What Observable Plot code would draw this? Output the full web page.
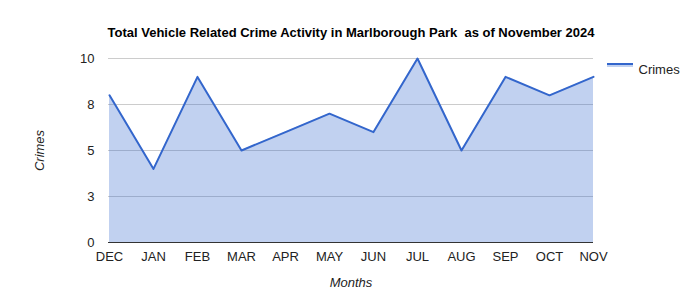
<!DOCTYPE html>
<html>
<head>
<meta charset="utf-8">
<script src="https://cdn.jsdelivr.net/npm/d3@7"></script>
<script src="https://cdn.jsdelivr.net/npm/@observablehq/plot@0.6"></script>
<style>
  html, body { margin: 0; padding: 0; background: #fff; }
  #chart svg { font-family: "Liberation Sans", Arial, sans-serif; }
  g[aria-label="y-axis label"] text, g[aria-label="x-axis label"] text { font-style: italic; }
</style>
</head>
<body>
<div id="chart"></div>
<script>
const months = ["DEC","JAN","FEB","MAR","APR","MAY","JUN","JUL","AUG","SEP","OCT","NOV"];
const crimes = [8, 4, 9, 5, 6, 7, 6, 10, 5, 9, 8, 9];
const yTicks = [0, 2.5, 5, 7.5, 10];
const title = "Total Vehicle Related Crime Activity in Marlborough Park  as of November 2024";
const seriesName = "Crimes";

const data = months.map((m, i) => ({month: m, crimes: crimes[i]}));
const blue = "#3366cc";

const plot = Plot.plot({
  width: 700,
  height: 300,
  marginLeft: 108,
  marginRight: 107,
  marginTop: 58,
  marginBottom: 58,
  style: {fontFamily: '"Liberation Sans", Arial, sans-serif', fontSize: "12px", color: "#222", background: "#fff"},
  x: {type: "point", domain: months, padding: 0},
  y: {domain: [0, 10]},
  marks: [
    Plot.gridY(yTicks.slice(1), {stroke: "#cccccc", strokeOpacity: 1}),
    Plot.areaY(data, {x: "month", y: "crimes", fill: blue, fillOpacity: 0.3}),
    Plot.ruleY([0], {stroke: "#333"}),
    Plot.lineY(data, {x: "month", y: "crimes", stroke: blue, strokeWidth: 2}),
    Plot.axisY({ticks: yTicks, tickFormat: d => Math.round(d), tickSize: 0, tickPadding: 14,
      label: "Crimes", labelAnchor: "center", labelArrow: "none", labelOffset: 74, fontSize: 13}),
    Plot.axisX({tickSize: 0, tickPadding: 9, label: "Months", labelAnchor: "center", labelArrow: "none", labelOffset: 44, fontSize: 13}),
    Plot.text([title], {frameAnchor: "top", dy: -31, fontWeight: "bold", fontSize: 13, fill: "#000"}),
    Plot.text([seriesName], {frameAnchor: "top-right", dx: 45, dy: 6, textAnchor: "start", fontSize: 13, fill: "#222"})
  ]
});

// legend swatch
const xr = plot.scale("x").range;
const yr = plot.scale("y").range;
const svg = d3.select(plot);
const lx = xr[1] + 14, ly = yr[1] + 6;
svg.append("rect").attr("x", lx).attr("y", ly).attr("width", 26).attr("height", 3).attr("fill", blue).attr("fill-opacity", 0.3);
svg.append("line").attr("x1", lx).attr("x2", lx + 26).attr("y1", ly).attr("y2", ly).attr("stroke", blue).attr("stroke-width", 2);

document.getElementById("chart").appendChild(plot);
</script>
</body>
</html>
